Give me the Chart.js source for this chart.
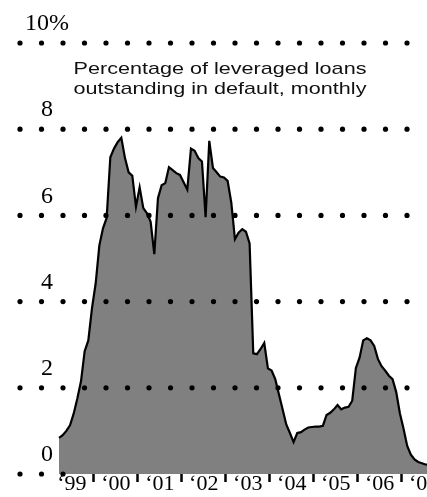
<!DOCTYPE html>
<html>
<head>
<meta charset="utf-8">
<script src="https://cdn.jsdelivr.net/npm/chart.js@4/dist/chart.umd.min.js"></script>
<style>
  html, body { margin: 0; padding: 0; background: #fff; }
  canvas { display: block; }
</style>
</head>
<body>
<canvas id="chart-defaults" width="427" height="497"></canvas>
<script>
// monthly default rate, % of leveraged loans outstanding, from March 1999
const firstYear = 1999;
const firstMonth = 3;
const defaultRate = [
  0.84, 0.90, 1.00, 1.13, 1.40, 1.75, 2.15, 2.85, 3.10, 3.85,
  4.42, 5.30, 5.70, 5.94, 7.35, 7.55, 7.70, 7.80, 7.33, 7.00,
  6.92, 6.20, 6.65, 6.17, 6.05, 5.85, 5.10, 6.40, 6.70, 6.75,
  7.12, 7.05, 6.98, 6.94, 6.77, 6.60, 7.55, 7.50, 7.33, 7.25,
  5.96, 7.73, 7.10, 7.00, 6.90, 6.88, 6.80, 6.30, 5.45, 5.60,
  5.68, 5.62, 5.35, 2.80, 2.78, 2.90, 3.04, 2.45, 2.40, 2.20,
  1.85, 1.50, 1.15, 0.95, 0.74, 0.95, 0.97, 1.03, 1.08, 1.09,
  1.10, 1.10, 1.12, 1.37, 1.42, 1.50, 1.60, 1.50, 1.54, 1.56,
  1.70, 2.46, 2.70, 3.10, 3.15, 3.10, 2.97, 2.67, 2.50, 2.40,
  2.28, 2.20, 1.90, 1.41, 1.05, 0.65, 0.45, 0.34, 0.28, 0.25,
  0.22, 0.21
];
// x position of each month = middle of that month, in years
const months = defaultRate.map((_, i) => firstYear + (firstMonth - 1 + i + 0.5) / 12);

const yearTicks = [2000, 2001, 2002, 2003, 2004, 2005, 2006, 2007, 2008];
const yearLabels = ["‘99", "‘00", "‘01", "‘02", "‘03", "‘04", "‘05", "‘06", "‘07"];
const pctTicks = [0, 2, 4, 6, 8, 10];
const titleLines = ["Percentage of leveraged loans", "outstanding in default, monthly"];

// dotted gridlines, drawn over the filled area
const dotGrid = {
  id: "dotGrid",
  afterDatasetsDraw(chart) {
    const { ctx, scales: { x, y } } = chart;
    const dataStart = x.getPixelForValue(months[0]);
    ctx.save();
    ctx.fillStyle = "#000";
    pctTicks.forEach(v => {
      const py = y.getPixelForValue(v);
      for (let px = 20; px < chart.width; px += 21.5) {
        // the zero line only shows left of the area
        if (v === 0 && px > dataStart + 5) break;
        ctx.beginPath();
        ctx.arc(px, py, 2.6, 0, Math.PI * 2);
        ctx.fill();
      }
    });
    ctx.restore();
  }
};

const chartTitle = {
  id: "chartTitle",
  afterDraw(chart) {
    const ctx = chart.ctx;
    ctx.save();
    ctx.fillStyle = "#111";
    ctx.font = '17px "Liberation Sans", Arial, sans-serif';
    ctx.textAlign = "center";
    ctx.textBaseline = "alphabetic";
    ctx.translate(220, 0);
    ctx.scale(1.27, 1);
    ctx.fillText(titleLines[0], 0, 74);
    ctx.fillText(titleLines[1], 0, 94);
    ctx.restore();
  }
};

document.addEventListener("DOMContentLoaded", () => {
  const ctx = document.getElementById("chart-defaults").getContext("2d");
  new Chart(ctx, {
    type: "line",
    data: {
      labels: months,
      datasets: [{
        data: defaultRate,
        borderColor: "#000",
        borderWidth: 2.2,
        backgroundColor: "#808080",
        fill: "origin",
        pointRadius: 0,
        tension: 0
      }]
    },
    options: {
      responsive: false,
      animation: false,
      events: [],
      layout: { padding: { top: 43, left: 0, right: 0, bottom: 0 } },
      plugins: { legend: { display: false }, tooltip: { enabled: false } },
      scales: {
        x: {
          type: "linear",
          min: 1999.14,
          max: 2007.575,
          border: { display: false },
          grid: {
            drawOnChartArea: false,
            drawTicks: true,
            tickLength: 8,
            tickWidth: 2.5,
            tickColor: "#000"
          },
          ticks: {
            autoSkip: false,
            maxRotation: 0,
            labelOffset: -22,
            padding: -10.5,
            color: "#000",
            font: { family: '"Liberation Serif", "Times New Roman", serif', size: 22 },
            callback: (value, i) => yearLabels[i]
          },
          afterBuildTicks: scale => {
            scale.ticks = yearTicks.map(value => ({ value }));
          },
          afterFit: scale => {
            scale.height = 23;
            scale.paddingLeft = 0;
            scale.paddingRight = 0;
          }
        },
        y: {
          min: 0,
          max: 10,
          border: { display: false },
          grid: { display: false, drawTicks: false },
          ticks: {
            stepSize: 2,
            mirror: true,
            crossAlign: "center",
            padding: -31,
            labelOffset: -19,
            color: "#000",
            font: { family: '"Liberation Serif", "Times New Roman", serif', size: 24 },
            callback: value => value === 10 ? "10%" : value
          },
          afterFit: scale => {
            scale.width = 56;
            scale.paddingTop = 0;
            scale.paddingBottom = 0;
          }
        }
      }
    },
    plugins: [dotGrid, chartTitle]
  });
});
</script>
</body>
</html>
